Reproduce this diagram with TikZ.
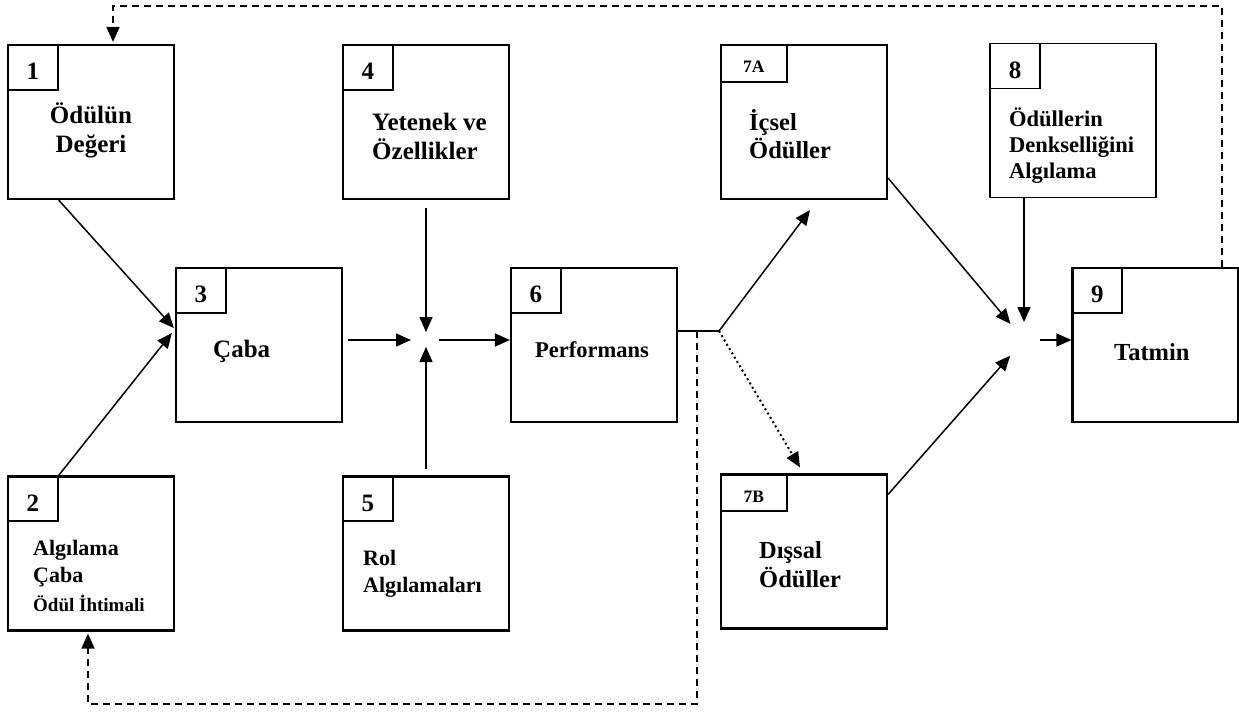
\documentclass[tikz,border=0pt]{standalone}
\usepackage{fontspec}
\setmainfont{Liberation Serif}
\usetikzlibrary{arrows.meta,calc}

\begin{document}
\begin{tikzpicture}[x=1pt,y=-1pt,
  box/.style={draw, line width=2.2pt, minimum width=166pt, minimum height=154pt, inner sep=0pt},
  numbox/.style={draw, line width=1.8pt, anchor=north west, minimum width=50pt, minimum height=45pt,
    inner sep=0pt, text height=25pt, text depth=0pt, font=\bfseries\fontsize{25}{29}\selectfont},
  smallnum/.style={numbox, minimum width=66pt, minimum height=37pt, text height=19pt,
    font=\bfseries\fontsize{17.5}{20}\selectfont},
  txt/.style 2 args={anchor=base west, inner sep=0pt, align=left, font=\bfseries\fontsize{#1}{#2}\selectfont},
  arr/.style={line width=1.5pt, -{Triangle[length=15pt,width=13pt]}},
  fb/.style={line width=1.9pt, dash pattern=on 7pt off 5pt, -{Triangle[length=15pt,width=13pt]}, shorten >=2pt}]

\useasboundingbox (0,0) rectangle (1239,712);

\node[box] (b1) at (91,122) {};
\node[box] (b2) at (91,553.5) {};
\node[box] (b3) at (259,345) {};
\node[box] (b4) at (426,122) {};
\node[box] (b5) at (426,553.5) {};
\node[box] (b6) at (594,345) {};
\node[box] (b7a) at (804,122) {};
\node[box] (b7b) at (804,551.5) {};
\node[box, line width=1.4pt] (b8) at (1073,120.5) {};
\node[box] (b9) at (1155.5,345) {};

\node[numbox] (n1) at (b1.north west) {1};
\node[numbox] (n2) at (b2.north west) {2};
\node[numbox] (n3) at (b3.north west) {3};
\node[numbox] (n4) at (b4.north west) {4};
\node[numbox] (n5) at (b5.north west) {5};
\node[numbox] (n6) at (b6.north west) {6};
\node[smallnum] (n7a) at (b7a.north west) {7A};
\node[smallnum] (n7b) at (b7b.north west) {7B};
\node[numbox, line width=1.4pt] (n8) at (b8.north west) {8};
\node[numbox] (n9) at (b9.north west) {9};

% multi-line labels sit on their last baseline
\node[txt={25}{29}, align=center, anchor=base] (t1) at (91,152) {Ödülün\\Değeri};
\node[txt={22}{27}] (t2) at (33,611) {Algılama\\Çaba\\[2pt]\fontsize{19}{27}\selectfont Ödül İhtimali};
\node[txt={25}{29}] (t3) at (213,357) {Çaba};
\node[txt={25}{29}] (t4) at (372,159) {Yetenek ve\\Özellikler};
\node[txt={22}{27}] (t5) at (363,592) {Rol\\Algılamaları};
\node[txt={22.5}{27}] (t6) at (535,357) {Performans};
\node[txt={24.5}{28}] (t7a) at (749,158) {İçsel\\Ödüller};
\node[txt={24.5}{29}] (t7b) at (759,587) {Dışsal\\Ödüller};
\node[txt={22.5}{26}] (t8) at (1009,178) {Ödüllerin\\Denkselliğini\\Algılama};
\node[txt={24.5}{29}] (t9) at (1114,360) {Tatmin};

\coordinate (j1) at (426,340);
\coordinate (j2) at (1024,340);
\coordinate (s) at (719,331);
\coordinate (c1) at (697,704);
\coordinate (c2) at (88,704);
\coordinate (c3) at (1222,6);
\coordinate (c4) at (113,6);

\draw[arr] (n1.east |- b1.south) -- ($(b3.west)+(-1,-17)$);
\draw[arr] (n2.north east) -- ($(b3.west)+(-3,-12)$);
\draw[arr, shorten <=5pt, shorten >=15pt] (b3.east |- j1) -- (j1);
\draw[arr, shorten <=8pt, shorten >=8pt] (b4.south) -- (j1);
\draw[arr, shorten <=6pt, shorten >=7pt] (b5.north) -- (j1);
\draw[arr, shorten <=13pt] (j1) -- (b6.west |- j1);

\draw[line width=1.5pt] (b6.east |- s) -- (s);
\draw[arr] (s) -- ($(b7a.south)+(6,10)$);
\draw[line width=2pt, dash pattern=on 2pt off 3pt, -{Triangle[length=15pt,width=13pt]}] (s) -- ($(b7b.north)+(-4,-6)$);

\draw[arr, shorten >=21pt] ($(b7a.south east)+(0,-22)$) -- (j2);
\draw[arr, shorten >=18pt] (b8.south -| j2) -- (j2);
\draw[arr, shorten >=21pt] ($(b7b.north east)+(0,21)$) -- (j2);
\draw[arr, shorten <=16pt] (j2) -- (b9.west |- j2);

\draw[fb] (s -| c1) -- (c1) -- (c2) -- (b2.south -| c2);
\draw[fb] (b9.north -| c3) -- (c3) -- (c4) -- (b1.north -| c4);

\end{tikzpicture}
\end{document}
